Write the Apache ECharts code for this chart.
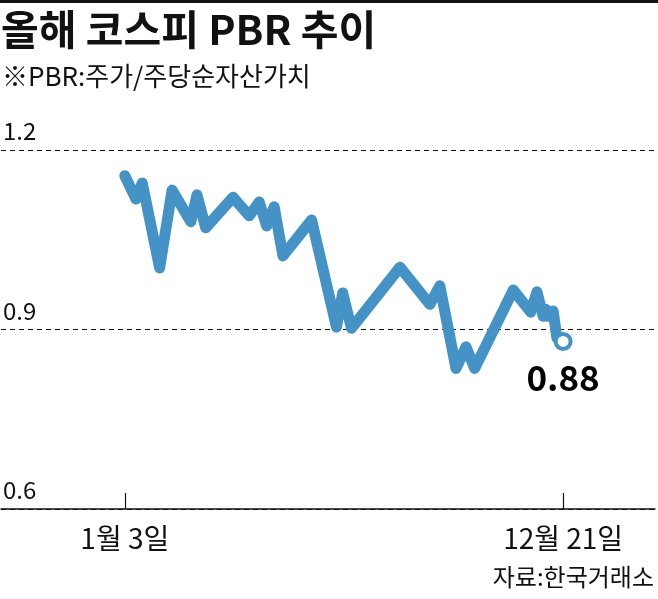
<!DOCTYPE html>
<html>
<head>
<meta charset="utf-8">
<script src="https://cdn.jsdelivr.net/npm/echarts@6/dist/echarts.min.js"></script>
<style>
html,body{margin:0;padding:0;background:#fff;}
#c{width:658px;height:599px;}
</style>
</head>
<body>
<div id="c"></div>
<script>
// ---- data ----
const dates = ['2022-01-03','2022-01-12','2022-01-17','2022-01-31','2022-02-10','2022-02-25','2022-03-02','2022-03-09','2022-03-31','2022-04-13','2022-04-21','2022-04-27','2022-05-03','2022-05-10','2022-06-02','2022-06-22','2022-06-27','2022-07-04','2022-08-12','2022-09-05','2022-09-13','2022-09-26','2022-10-04','2022-10-11','2022-11-11','2022-11-25','2022-11-30','2022-12-05','2022-12-07','2022-12-09','2022-12-13','2022-12-16','2022-12-21'];
const pbr = [1.157,1.118,1.145,1.003,1.133,1.080,1.125,1.070,1.121,1.090,1.113,1.073,1.105,1.023,1.083,0.904,0.961,0.902,1.004,0.942,0.973,0.835,0.871,0.835,0.966,0.929,0.963,0.922,0.934,0.922,0.931,0.886,0.88];
const tickDates = ['2022-01-03','2022-12-21'];
const tickLabels = ['1월 3일','12월 21일'];
const yTicks = [0.6, 0.9, 1.2];
const titleText = '올해 코스피 PBR 추이';
const subText = '※PBR:주가/주당순자산가치';
const sourceText = '자료:한국거래소';
const lastLabel = '0.88';

const FONT = '"Noto Sans CJK KR","Noto Sans",sans-serif';
const BLUE = '#4592C6';
const DAY = 86400000;
const ts = s => Date.UTC(+s.slice(0,4), +s.slice(5,7) - 1, +s.slice(8,10));

const lineData = dates.map((d, i) => [ts(d), pbr[i]]);
const last = lineData[lineData.length - 1];
const tickTs = tickDates.map(ts);

const chart = echarts.init(document.getElementById('c'), null, {renderer: 'canvas'});
chart.setOption({
  animation: false,
  backgroundColor: '#fff',
  textStyle: {fontFamily: FONT},
  graphic: [
    {type: 'rect', left: 0, top: 0, shape: {width: 658, height: 3}, style: {fill: '#111'}},
    {type: 'text', left: 1, top: 9, style: {text: titleText, font: 'bold 41px ' + FONT, fill: '#111'}},
    {type: 'text', left: 2, top: 63, style: {text: subText, font: '26px ' + FONT, fill: '#111'}},
    {type: 'text', right: 4, top: 565, style: {text: sourceText, font: '24px ' + FONT, fill: '#111'}}
  ],
  grid: {left: 0, right: 3, top: 150, bottom: 90},
  xAxis: {
    type: 'value',
    min: tickTs[0] - 99.4 * DAY,
    max: tickTs[1] + 73.8 * DAY,
    axisLine: {show: true, lineStyle: {color: '#111', width: 1.5}},
    axisTick: {show: true, inside: true, length: 16, customValues: tickTs, lineStyle: {color: '#111', width: 1.2}},
    axisLabel: {
      show: true, customValues: tickTs, margin: 15,
      fontSize: 28, color: '#111', fontFamily: FONT,
      formatter: v => { const i = tickTs.indexOf(v); return i >= 0 ? tickLabels[i] : ''; }
    },
    splitLine: {show: false}
  },
  yAxis: {
    type: 'value',
    min: yTicks[0], max: yTicks[2], interval: 0.3,
    axisLine: {show: false},
    axisTick: {show: false},
    axisLabel: {
      inside: true, margin: 2, verticalAlign: 'bottom', padding: [0, 0, 7, 0],
      fontSize: 24, color: '#111', fontFamily: FONT,
      formatter: v => v.toFixed(1)
    },
    splitLine: {show: true, lineStyle: {color: '#111', width: 1.2, type: [5, 4]}}
  },
  series: [
    {
      type: 'line', data: lineData, showSymbol: false, z: 3,
      lineStyle: {color: BLUE, width: 11, join: 'round', cap: 'round'}
    },
    {
      type: 'scatter', data: [last], z: 4,
      symbol: 'circle', symbolSize: 15,
      itemStyle: {color: '#fff', borderColor: BLUE, borderWidth: 4, opacity: 1},
      label: {show: true, position: 'bottom', distance: 9, formatter: lastLabel,
        fontSize: 35, fontWeight: 'bold', color: '#000', opacity: 1, fontFamily: FONT}
    }
  ]
});
</script>
</body>
</html>
